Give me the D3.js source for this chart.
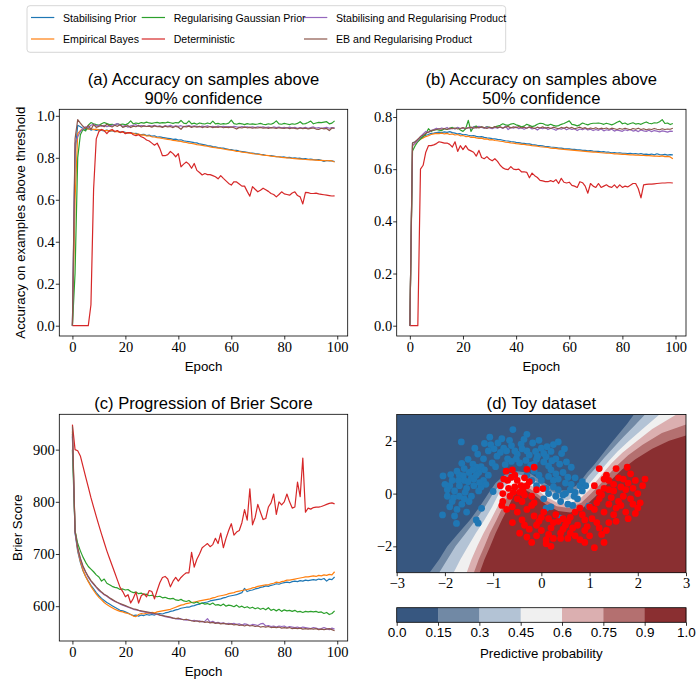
<!DOCTYPE html>
<html>
<head>
<meta charset="utf-8">
<script src="https://cdn.jsdelivr.net/npm/d3@7"></script>
<style>
  body { margin: 0; background: #fff; }
  .tick text { font-family: "Liberation Serif", serif; font-size: 14.5px; fill: #000; }
  .tick line { stroke: #000; stroke-width: 0.8; }
  .lbl { font-family: "Liberation Sans", Arial, sans-serif; fill: #000; }
</style>
</head>
<body>
<svg id="chart" width="696" height="681"></svg>
<script>
// ---- legend / series meta ----
const seriesNames = ["Stabilising Prior", "Empirical Bayes", "Regularising Gaussian Prior",
  "Deterministic", "Stabilising and Regularising Product", "EB and Regularising Product"];
const seriesColors = ["#1f77b4", "#ff7f0e", "#2ca02c", "#d62728", "#9467bd", "#8c564b"];
const epochs = d3.range(100);
const epochTicks = [0, 20, 40, 60, 80, 100];

// ---- (a) accuracy above 90% confidence ----
const hiStab = [0,0.82,0.955,0.948,0.94,0.935,0.94,0.932,0.936,0.93,
  0.934,0.93,0.928,0.932,0.926,0.929,0.924,0.927,0.922,0.925,
  0.921,0.918,0.92,0.915,0.917,0.912,0.91,0.912,0.906,0.908,
  0.903,0.905,0.899,0.9,0.897,0.895,0.893,0.891,0.888,0.889,
  0.884,0.886,0.881,0.879,0.877,0.875,0.872,0.871,0.866,0.864,
  0.862,0.858,0.857,0.853,0.852,0.849,0.847,0.846,0.843,0.84,
  0.839,0.836,0.835,0.832,0.83,0.828,0.826,0.824,0.823,0.82,
  0.819,0.816,0.815,0.812,0.811,0.81,0.808,0.806,0.805,0.803,
  0.804,0.801,0.802,0.799,0.8,0.797,0.798,0.795,0.796,0.793,
  0.794,0.791,0.79,0.792,0.788,0.783,0.787,0.785,0.786,0.782];
const hiEB = [0,0.6,0.915,0.93,0.938,0.942,0.936,0.94,0.934,0.937,
  0.932,0.935,0.929,0.931,0.927,0.93,0.925,0.926,0.921,0.923,
  0.918,0.92,0.916,0.917,0.912,0.913,0.908,0.909,0.904,0.905,
  0.9,0.899,0.896,0.895,0.892,0.89,0.888,0.886,0.883,0.882,
  0.879,0.878,0.875,0.873,0.87,0.868,0.866,0.863,0.861,0.859,
  0.857,0.855,0.852,0.85,0.848,0.846,0.845,0.842,0.84,0.838,
  0.836,0.834,0.831,0.83,0.827,0.826,0.824,0.822,0.82,0.818,
  0.817,0.815,0.813,0.812,0.81,0.808,0.807,0.805,0.804,0.802,
  0.801,0.8,0.799,0.797,0.796,0.795,0.794,0.793,0.792,0.791,
  0.79,0.79,0.789,0.788,0.788,0.787,0.786,0.787,0.785,0.78];
const hiReg = [0,0.25,0.8,0.91,0.935,0.928,0.955,0.968,0.962,0.958,
  0.955,0.962,0.968,0.963,0.958,0.96,0.956,0.962,0.958,0.961,
  0.957,0.963,0.976,0.962,0.966,0.963,0.968,0.965,0.97,0.966,
  0.964,0.967,0.969,0.965,0.968,0.966,0.97,0.967,0.964,0.968,
  0.966,0.978,0.965,0.963,0.976,0.962,0.965,0.96,0.966,0.963,
  0.961,0.966,0.962,0.975,0.962,0.964,0.96,0.963,0.961,0.965,
  0.98,0.963,0.96,0.964,0.962,0.958,0.963,0.96,0.962,0.959,
  0.961,0.964,0.96,0.958,0.962,0.96,0.965,0.976,0.962,0.96,
  0.964,0.961,0.958,0.962,0.96,0.964,0.972,0.961,0.963,0.968,
  0.975,0.962,0.966,0.969,0.968,0.97,0.972,0.962,0.965,0.976];
const hiDet = [0,0,0,0,0,0,0,0.1,0.65,0.89,
  0.925,0.935,0.93,0.915,0.93,0.935,0.925,0.93,0.92,0.925,
  0.915,0.92,0.92,0.91,0.905,0.91,0.9,0.895,0.885,0.88,
  0.87,0.86,0.87,0.845,0.81,0.81,0.815,0.83,0.82,0.805,
  0.82,0.757,0.77,0.78,0.77,0.75,0.773,0.74,0.73,0.718,
  0.725,0.72,0.72,0.715,0.71,0.7,0.715,0.702,0.69,0.678,
  0.67,0.686,0.685,0.675,0.665,0.665,0.64,0.617,0.663,0.65,
  0.638,0.645,0.655,0.648,0.64,0.63,0.625,0.614,0.625,0.638,
  0.628,0.625,0.622,0.632,0.638,0.62,0.614,0.58,0.635,0.634,
  0.63,0.63,0.632,0.628,0.626,0.624,0.622,0.62,0.618,0.619];
const hiStabReg = [0,0.87,0.9,0.925,0.94,0.948,0.944,0.955,0.96,0.952,
  0.956,0.95,0.955,0.948,0.952,0.955,0.958,0.963,0.955,0.95,
  0.953,0.946,0.952,0.955,0.958,0.95,0.954,0.952,0.949,0.953,
  0.951,0.955,0.95,0.952,0.948,0.953,0.95,0.955,0.949,0.952,
  0.95,0.953,0.948,0.951,0.954,0.949,0.952,0.95,0.947,0.951,
  0.949,0.952,0.948,0.95,0.946,0.951,0.948,0.95,0.947,0.949,
  0.946,0.95,0.947,0.945,0.949,0.946,0.948,0.945,0.947,0.944,
  0.948,0.945,0.947,0.944,0.946,0.943,0.947,0.944,0.946,0.943,
  0.945,0.942,0.946,0.943,0.945,0.941,0.944,0.942,0.945,0.941,
  0.944,0.947,0.942,0.944,0.94,0.943,0.945,0.941,0.944,0.943];
const hiEBReg = [0,0.89,0.982,0.965,0.95,0.94,0.955,0.935,0.958,0.945,
  0.95,0.955,0.948,0.96,0.952,0.947,0.955,0.95,0.958,0.945,
  0.95,0.953,0.944,0.951,0.948,0.954,0.947,0.952,0.949,0.951,
  0.946,0.952,0.948,0.95,0.945,0.951,0.947,0.949,0.944,0.95,
  0.946,0.936,0.95,0.947,0.951,0.945,0.949,0.946,0.95,0.944,
  0.948,0.945,0.949,0.944,0.947,0.945,0.948,0.943,0.946,0.944,
  0.947,0.943,0.937,0.945,0.942,0.946,0.943,0.945,0.941,0.944,
  0.942,0.945,0.941,0.943,0.94,0.944,0.942,0.94,0.943,0.941,
  0.94,0.943,0.939,0.942,0.94,0.938,0.942,0.939,0.941,0.938,
  0.94,0.942,0.937,0.935,0.941,0.938,0.94,0.93,0.942,0.94];

// ---- (b) accuracy above 50% confidence ----
const midStab = [0,0.7,0.705,0.712,0.72,0.725,0.73,0.733,0.737,0.738,
  0.74,0.742,0.74,0.743,0.741,0.744,0.74,0.738,0.735,0.736,
  0.732,0.733,0.73,0.728,0.729,0.726,0.724,0.725,0.722,0.72,
  0.719,0.717,0.716,0.714,0.713,0.711,0.709,0.708,0.706,0.705,
  0.703,0.702,0.7,0.699,0.697,0.697,0.694,0.693,0.691,0.69,
  0.689,0.687,0.687,0.685,0.684,0.683,0.681,0.681,0.679,0.678,
  0.678,0.676,0.676,0.674,0.674,0.672,0.672,0.67,0.671,0.669,
  0.668,0.668,0.666,0.667,0.665,0.665,0.663,0.664,0.662,0.663,
  0.661,0.661,0.66,0.661,0.659,0.66,0.658,0.66,0.657,0.658,
  0.656,0.658,0.655,0.659,0.656,0.655,0.657,0.654,0.656,0.655];
const midEB = [0,0.69,0.7,0.708,0.715,0.72,0.725,0.728,0.733,0.735,
  0.737,0.736,0.738,0.735,0.737,0.733,0.735,0.731,0.733,0.728,
  0.729,0.725,0.726,0.722,0.723,0.72,0.718,0.719,0.715,0.716,
  0.712,0.713,0.71,0.709,0.707,0.706,0.704,0.703,0.701,0.7,
  0.698,0.697,0.695,0.695,0.693,0.692,0.69,0.689,0.688,0.686,
  0.685,0.684,0.683,0.681,0.68,0.68,0.678,0.677,0.676,0.675,
  0.674,0.673,0.672,0.671,0.67,0.669,0.668,0.667,0.666,0.665,
  0.665,0.664,0.663,0.662,0.661,0.661,0.66,0.659,0.659,0.658,
  0.657,0.657,0.656,0.655,0.655,0.654,0.654,0.653,0.653,0.652,
  0.652,0.651,0.65,0.65,0.649,0.651,0.648,0.649,0.647,0.64];
const midReg = [0,0.67,0.69,0.705,0.715,0.725,0.735,0.755,0.745,0.75,
  0.752,0.75,0.748,0.755,0.752,0.757,0.76,0.755,0.76,0.75,
  0.745,0.755,0.787,0.745,0.762,0.765,0.76,0.762,0.758,0.763,
  0.76,0.758,0.762,0.765,0.768,0.774,0.77,0.768,0.773,0.775,
  0.77,0.767,0.762,0.765,0.772,0.768,0.763,0.766,0.772,0.776,
  0.775,0.77,0.768,0.772,0.768,0.765,0.767,0.772,0.775,0.78,
  0.785,0.772,0.77,0.766,0.77,0.777,0.773,0.77,0.774,0.776,
  0.776,0.777,0.775,0.772,0.776,0.773,0.77,0.774,0.78,0.784,
  0.774,0.777,0.771,0.775,0.778,0.773,0.775,0.772,0.777,0.781,
  0.776,0.774,0.778,0.777,0.782,0.79,0.775,0.777,0.771,0.775];
const midDet = [0,0,0,0,0.6,0.615,0.665,0.69,0.69,0.693,
  0.698,0.705,0.703,0.7,0.7,0.695,0.685,0.705,0.668,0.69,
  0.675,0.69,0.675,0.67,0.665,0.65,0.672,0.645,0.64,0.648,
  0.638,0.632,0.64,0.63,0.615,0.605,0.6,0.598,0.61,0.6,
  0.598,0.6,0.59,0.59,0.588,0.567,0.585,0.575,0.568,0.557,
  0.555,0.552,0.552,0.556,0.552,0.56,0.545,0.565,0.55,0.547,
  0.55,0.538,0.535,0.53,0.552,0.548,0.535,0.508,0.545,0.535,
  0.53,0.545,0.53,0.535,0.54,0.533,0.53,0.54,0.528,0.54,
  0.53,0.535,0.532,0.538,0.545,0.545,0.525,0.49,0.54,0.542,
  0.543,0.543,0.544,0.545,0.546,0.547,0.547,0.548,0.548,0.547];
const midStabReg = [0,0.69,0.7,0.71,0.725,0.735,0.745,0.74,0.748,0.752,
  0.757,0.754,0.758,0.755,0.76,0.753,0.757,0.754,0.76,0.756,
  0.758,0.755,0.76,0.757,0.762,0.758,0.764,0.76,0.757,0.762,
  0.758,0.755,0.76,0.757,0.762,0.756,0.765,0.752,0.76,0.757,
  0.762,0.755,0.759,0.753,0.758,0.761,0.754,0.757,0.75,0.758,
  0.755,0.76,0.752,0.757,0.754,0.749,0.756,0.753,0.758,0.751,
  0.756,0.752,0.755,0.748,0.754,0.751,0.756,0.75,0.753,0.748,
  0.752,0.749,0.754,0.747,0.751,0.749,0.753,0.746,0.75,0.748,
  0.745,0.751,0.748,0.752,0.746,0.749,0.744,0.75,0.747,0.745,
  0.749,0.744,0.748,0.746,0.743,0.747,0.745,0.742,0.746,0.745];
const midEBReg = [0,0.7,0.705,0.715,0.725,0.73,0.738,0.742,0.748,0.75,
  0.752,0.755,0.753,0.756,0.752,0.757,0.755,0.758,0.754,0.756,
  0.759,0.756,0.758,0.761,0.757,0.76,0.758,0.762,0.759,0.756,
  0.761,0.758,0.763,0.759,0.762,0.758,0.761,0.764,0.758,0.762,
  0.759,0.763,0.758,0.761,0.757,0.762,0.759,0.756,0.761,0.758,
  0.762,0.757,0.76,0.756,0.761,0.758,0.755,0.76,0.757,0.761,
  0.757,0.76,0.755,0.758,0.761,0.756,0.759,0.754,0.758,0.755,
  0.759,0.754,0.757,0.755,0.758,0.753,0.757,0.755,0.752,0.756,
  0.753,0.757,0.754,0.751,0.756,0.753,0.757,0.752,0.755,0.751,
  0.754,0.752,0.756,0.753,0.751,0.755,0.752,0.754,0.753,0.757];

// ---- (c) Brier score ----
const brStab = [925,740,705,684,668,657,648,640,633,626,
  620,615,611,607,604,601,598,595,592,591,
  589,587,584,582,583,581,583,582,584,583,
  584,583,585,586,585,587,588,590,591,593,
  594,596,597,598,598,600,601,603,604,606,
  607,608,610,611,612,613,614,616,617,619,
  620,621,622,624,626,634,628,630,631,633,
  634,636,637,639,638,640,641,643,642,644,
  645,646,645,647,648,647,649,648,650,649,
  650,651,650,652,651,653,648,652,651,656];
const brEB = [935,745,708,686,669,657,647,638,630,623,
  617,612,607,603,600,597,594,592,590,589,
  587,586,584,581,580,584,586,585,587,586,
  588,587,589,590,591,592,593,594,596,598,
  600,602,603,605,606,607,608,609,610,611,
  612,613,614,616,617,619,620,621,622,624,
  625,626,628,629,630,631,632,633,635,636,
  638,639,640,641,641,643,644,646,645,647,
  648,650,650,651,652,653,654,655,656,656,
  657,658,657,659,658,660,659,661,660,666];
const brReg = [900,745,720,706,694,684,676,671,666,660,
  656,648,652,644,641,638,636,635,632,633,
  631,632,628,626,627,624,625,622,623,620,
  621,619,618,619,616,617,615,614,615,612,
  611,613,610,609,611,607,606,608,605,606,
  604,605,603,606,602,603,601,604,600,602,
  601,599,602,598,600,597,599,596,598,595,
  597,594,596,593,597,592,594,591,594,590,
  593,591,592,590,592,589,590,588,590,589,
  590,589,590,588,589,586,588,584,586,591];
const brDet = [948,900,898,888,868,848,828,808,790,772,
  755,738,722,706,692,678,664,650,636,628,
  618,622,606,615,627,606,620,624,618,630,
  628,614,630,645,655,657,652,637,648,655,
  648,655,660,664,664,703,675,690,700,712,
  716,720,714,718,730,720,740,712,730,745,
  758,736,742,745,760,785,765,825,756,770,
  795,780,766,768,790,798,815,776,800,794,
  800,815,800,788,790,838,810,884,780,788,
  786,789,790,790,791,793,795,797,798,796];
const brStabReg = [930,742,710,690,675,665,655,648,642,636,
  630,626,622,619,615,612,609,607,604,602,
  600,598,596,594,593,592,590,589,588,587,
  586,585,584,583,582,580,579,578,577,576,
  575,576,574,573,574,572,573,571,572,570,
  571,576,569,571,568,569,567,568,566,567,
  566,567,565,566,564,566,565,563,565,564,
  563,566,567,562,563,561,562,560,562,561,
  562,559,561,560,559,560,558,560,559,558,
  557,559,558,556,557,559,557,555,558,556];
const brEBReg = [945,744,712,692,677,666,657,649,643,637,
  632,627,623,620,616,613,610,607,605,603,
  601,599,597,595,594,592,591,590,589,588,
  587,586,585,583,582,581,580,579,577,576,
  577,575,574,575,573,572,571,572,570,571,
  569,570,568,569,567,568,566,567,566,565,
  566,564,565,563,564,562,564,562,563,561,
  562,560,561,560,561,559,560,559,560,558,
  559,558,559,557,558,557,558,556,557,556,
  557,556,557,555,556,555,556,557,555,553];

// ---- (d) toy dataset ----
const bandLabels = ["0.0", "0.15", "0.3", "0.45", "0.6", "0.75", "0.9", "1.0"];
const bandColors = ["#375780", "#7189a5", "#b3c3d5", "#f0f0f0", "#dbafb0", "#b47070", "#8a2f31"];
// level boundaries (0.15 ... 0.9), from the bottom edge to the top / right edge
const lvl15 = [[-2.32,-3],[-2.12,-2.5],[-1.95,-2],[-1.72,-1.5],[-1.48,-1],[-1.28,-0.5],[-1.1,0],[-0.95,0.4],[-0.75,0.72],[-0.5,0.85],[-0.25,0.78],[-0.05,0.55],[0.15,0.3],[0.35,0.12],[0.55,0.12],[0.72,0.3],[0.85,0.55],[0.95,0.8],[1.1,1.1],[1.25,1.45],[1.42,1.85],[1.6,2.25],[1.78,2.65],[1.92,3]];
const lvl30 = [[-2.12,-3],[-1.95,-2.5],[-1.78,-2],[-1.57,-1.5],[-1.36,-1],[-1.17,-0.5],[-1.0,0],[-0.87,0.33],[-0.7,0.6],[-0.48,0.72],[-0.27,0.66],[-0.08,0.43],[0.12,0.17],[0.33,-0.02],[0.55,-0.02],[0.74,0.17],[0.88,0.42],[0.98,0.68],[1.13,0.98],[1.3,1.35],[1.5,1.75],[1.7,2.15],[1.92,2.55],[2.15,3]];
const lvl45 = [[-1.82,-3],[-1.68,-2.5],[-1.52,-2],[-1.36,-1.5],[-1.18,-1],[-1.02,-0.5],[-0.88,0],[-0.77,0.27],[-0.62,0.48],[-0.45,0.57],[-0.28,0.52],[-0.1,0.3],[0.1,0.02],[0.32,-0.2],[0.55,-0.24],[0.77,-0.06],[0.92,0.22],[1.05,0.5],[1.2,0.82],[1.38,1.2],[1.58,1.6],[1.82,2.0],[2.1,2.45],[2.45,3]];
const lvl60 = [[-1.55,-3],[-1.45,-2.5],[-1.33,-2],[-1.2,-1.5],[-1.05,-1],[-0.91,-0.5],[-0.78,0],[-0.68,0.22],[-0.55,0.38],[-0.43,0.44],[-0.3,0.4],[-0.12,0.2],[0.08,-0.1],[0.32,-0.34],[0.56,-0.4],[0.8,-0.2],[0.98,0.12],[1.12,0.42],[1.28,0.78],[1.46,1.16],[1.68,1.55],[1.95,1.95],[2.3,2.45],[2.8,3]];
const lvl75 = [[-1.4,-3],[-1.3,-2.5],[-1.18,-2],[-1.07,-1.5],[-0.93,-1],[-0.8,-0.5],[-0.68,0],[-0.6,0.17],[-0.5,0.28],[-0.4,0.31],[-0.3,0.26],[-0.13,0.06],[0.08,-0.24],[0.32,-0.48],[0.57,-0.55],[0.83,-0.35],[1.03,0],[1.2,0.32],[1.37,0.68],[1.56,1.05],[1.8,1.45],[2.1,1.85],[2.5,2.3],[3,2.62]];
const lvl90 = [[-1.28,-3],[-1.18,-2.5],[-1.06,-2],[-0.95,-1.5],[-0.82,-1],[-0.68,-0.5],[-0.56,0],[-0.5,0.1],[-0.42,0.16],[-0.35,0.15],[-0.25,0.06],[-0.1,-0.12],[0.1,-0.42],[0.35,-0.66],[0.6,-0.72],[0.88,-0.52],[1.1,-0.15],[1.28,0.2],[1.47,0.55],[1.68,0.92],[1.95,1.3],[2.3,1.7],[2.65,2.0],[3,2.2]];

const bluePts = [[-0.59,2.43],[-1.66,1.96],[-1.07,2.14],[0.35,1.96],[-0.9,1.92],[-0.78,1.72],[-0.62,1.82],[-0.42,1.88],[-0.3,1.62],[-0.18,1.92],
  [0,1.72],[0.2,1.6],[0.1,1.4],[-0.1,1.3],[-0.5,1.5],[-0.7,1.32],[-0.92,1.42],[-1.1,1.62],[-1.2,1.32],[-1.32,1.5],
  [-1.42,1.12],[-1.02,1.16],[-0.32,1.26],[0.3,1.32],[0.42,1.52],[0.52,1.2],[0.62,1.0],[0.15,1.05],[-0.15,1.12],[-0.45,1.16],
  [-0.75,1.1],[-1.25,1.02],[-0.55,1.62],[-0.25,1.46],[0.05,1.52],[-0.85,1.56],[-1.05,1.86],[-0.66,2.02],[-0.36,2.06],[0.25,1.86],
  [-1.52,1.3],[-0.05,2.02],[-0.95,1.02],[-0.4,1.7],[-0.12,1.6],[0.12,1.78],[-0.72,1.62],[-0.98,1.7],[-1.18,1.9],[-0.52,1.32],
  [-0.22,1.08],[0.38,1.12],[0.48,1.7],[-0.82,2.08],[-0.3,2.25],[0.05,1.2],[-1.38,1.72],[-0.62,1.22],[0.22,1.25],[-0.08,1.42],
  [-2.04,0.67],[-2.05,-0.81],[-1.76,-1.13],[-1.35,-1.0],[-1.31,-1.12],[-1.24,-0.56],[-1.0,0.08],[-1.9,0.3],[-1.8,0.1],[-1.7,-0.1],
  [-1.85,-0.3],[-1.6,0.5],[-1.5,0.8],[-1.7,0.7],[-1.45,0.6],[-1.3,0.8],[-1.2,0.5],[-1.4,0.3],[-1.55,0.2],[-1.3,0.1],
  [-1.65,-0.4],[-1.75,-0.6],[-1.5,-0.3],[-1.95,-0.1],[-1.85,0.5],[-1.6,0.95],[-1.35,1.0],[-1.1,0.7],[-1.15,0.35],[-1.55,-0.7],
  [-1.8,-0.85],[-1.95,0.15],[-2.0,0.35],[-1.45,-0.1],[-1.25,0.25],[-1.7,0.3],[-1.6,-0.2],[-1.4,0.55],[-1.75,0.85],[-1.88,0.72],
  [-1.62,0.68],[-1.52,0.45],[-1.35,0.7],[-1.18,0.9],[-1.72,0.5],[-1.9,-0.5],[-1.58,0.05],[-1.28,0.42],[-1.42,0.9],[-1.65,1.15],
  [-1.82,-0.15],[0.2,0.9],[0.45,0.8],[0.7,0.6],[0.8,0.3],[0.85,0.1],[0.75,-0.2],[0.55,-0.4],[0.4,-0.3],[0.3,-0.1],
  [0.1,0.2],[0,0.5],[-0.1,0.3],[0.25,0.5],[0.5,0.4],[0.6,0.15],[0.35,0.15],[0.65,-0.45],[0.98,-0.48],[0.2,-0.5],
  [0.5,0],[0.15,0.65],[-0.05,0.7],[0.35,0.55],[0.7,0.05],[0.45,-0.05],[0.62,0.35],[-0.2,0.5],[0.05,-0.2],[0.85,0.45],
  [0.39,-0.93],[0.1,-0.55],[0.3,0.75],[-0.15,0.85],[0.55,0.62],[0.92,0.3],[0.25,0.25],[-0.3,0.7],[0.68,-0.1],[0.15,0]];
const redPts = [[-0.73,0.85],[-0.6,0.9],[-0.3,0.92],[-0.15,1.0],[0.03,0.19],[-0.85,0.3],[-0.8,0],[-0.7,0.5],[-0.5,0.5],[-0.35,0.6],
  [-0.55,0.25],[-0.65,-0.1],[-0.45,0.05],[-0.3,0.3],[-0.8,-0.3],[-0.6,-0.5],[-0.4,-0.3],[-0.2,-0.1],[-0.78,0.55],[-0.68,0.2],
  [-0.5,-0.2],[-0.35,-0.05],[-0.25,0.45],[-0.1,0.15],[-0.72,-0.6],[-0.55,0.7],[-0.42,0.3],[-0.82,-0.45],[-0.58,0.05],[-0.15,-0.35],
  [-0.62,0.62],[-0.38,0.12],[-0.45,-1.5],[-0.2,-1.85],[-0.1,-1.6],[0.1,-1.9],[0.2,-2.0],[0.4,-1.7],[0.6,-1.5],[0.8,-1.75],
  [1.1,-2.05],[1.3,-1.85],[0.9,-1.4],[0.5,-1.2],[0.2,-1.3],[-0.1,-1.2],[-0.4,-1.0],[0,-0.9],[0.3,-0.8],[0.6,-0.9],
  [0.9,-1.0],[1.2,-1.3],[1.4,-1.1],[1.5,-0.8],[1.3,-0.7],[1.1,-0.6],[-0.6,-1.1],[-0.5,-0.7],[-0.3,-0.6],[0.15,-1.55],
  [0.45,-1.35],[0.75,-1.2],[1.0,-1.6],[-0.25,-1.35],[0.35,-1.05],[0.7,-0.7],[1.05,-0.95],[0.05,-0.7],[-0.15,-0.85],[0.55,-1.7],
  [0.9,-1.85],[1.25,-1.55],[0.25,-1.7],[-0.35,-1.2],[0,-1.4],[0.4,-1.5],[0.65,-1.3],[0.95,-1.25],[1.15,-1.1],[-0.05,-1.05],
  [0.25,-1.1],[0.55,-1.05],[0.85,-0.8],[1.35,-1.4],[0.1,-1.75],[-0.3,-1.65],[0.7,-1.6],[1.55,-1.05],[0.45,-0.95],[-0.2,-0.45],
  [0.15,-0.95],[0.8,-0.55],[1.2,0.95],[1.55,0.95],[1.78,1.0],[2.15,0.55],[2.05,-0.35],[1.9,0.2],[1.8,0.4],[1.6,0.6],
  [1.4,0.5],[1.3,0.2],[1.5,0.1],[1.7,-0.1],[1.9,-0.4],[1.6,-0.3],[1.4,-0.4],[1.2,-0.2],[1.0,-0.5],[1.75,-0.7],
  [2.0,0],[1.85,0.75],[1.35,0.7],[1.1,0.3],[1.65,0.25],[1.45,-0.15],[1.95,-0.75],[1.25,-0.05],[1.55,-0.55],[1.8,-0.95],
  [2.1,0.3],[1.3,0.55],[1.7,0.55],[1.95,0.5],[1.5,0.35],[1.2,0.05],[1.65,-0.45],[1.85,-0.2],[1.4,0.15],[2.0,-0.55],
  [1.15,-0.35],[1.75,0.15]];

const svg = d3.select("#chart");

// ---- layout (pixel frames of the axes) ----
const A = { l: 59.3, r: 347.7, t: 109.3, b: 336 };
const B = { l: 396.7, r: 686, t: 109.3, b: 336 };
const C = { l: 59.3, r: 347.7, t: 414.3, b: 641 };
const D = { l: 396.7, r: 686, t: 414.5, b: 572.7 };
const CB = { l: 396.7, r: 686, t: 607.7, b: 622.3 };

function frameRect(f) {
  svg.append("rect").attr("x", f.l).attr("y", f.t)
    .attr("width", f.r - f.l).attr("height", f.b - f.t)
    .attr("fill", "none").attr("stroke", "#000").attr("stroke-width", 0.8);
}

function styleAxis(g) {
  g.select(".domain").remove();
}

function text(x, y, str, size, anchor = "middle", rotate = 0) {
  const t = svg.append("text").attr("class", "lbl")
    .attr("font-size", size).attr("text-anchor", anchor).text(str);
  if (rotate) t.attr("transform", `translate(${x},${y}) rotate(${rotate})`);
  else t.attr("x", x).attr("y", y);
  return t;
}

function linePanel(f, series, yTicks, yFmt) {
  const x = d3.scaleLinear().domain([-4.95, 103.95]).range([f.l, f.r]);
  const [lo, hi] = d3.extent(series.flat());
  const pad = (hi - lo) * 0.05;
  const y = d3.scaleLinear().domain([lo - pad, hi + pad]).range([f.b, f.t]);
  const line = d3.line().x((d, i) => x(epochs[i])).y(d => y(d));
  series.forEach((s, k) => {
    svg.append("path").datum(s).attr("d", line)
      .attr("fill", "none").attr("stroke", seriesColors[k])
      .attr("stroke-width", 1.2).attr("stroke-linejoin", "round");
  });
  svg.append("g").attr("transform", `translate(0,${f.b})`)
    .call(d3.axisBottom(x).tickValues(epochTicks).tickSize(3.5).tickPadding(2).tickFormat(d3.format("d")))
    .call(styleAxis);
  svg.append("g").attr("transform", `translate(${f.l},0)`)
    .call(d3.axisLeft(y).tickValues(yTicks).tickSize(3.5).tickPadding(1).tickFormat(yFmt))
    .call(styleAxis);
  frameRect(f);
  text((f.l + f.r) / 2, f.b + 35, "Epoch", 13.3);
}

linePanel(A, [hiStab, hiEB, hiReg, hiDet, hiStabReg, hiEBReg], [0, 0.2, 0.4, 0.6, 0.8, 1.0], d3.format(".1f"));
linePanel(B, [midStab, midEB, midReg, midDet, midStabReg, midEBReg], [0, 0.2, 0.4, 0.6, 0.8], d3.format(".1f"));
linePanel(C, [brStab, brEB, brReg, brDet, brStabReg, brEBReg], [600, 700, 800, 900], d3.format("d"));

// titles and y labels
text((A.l + A.r) / 2, 84.5, "(a) Accuracy on samples above", 16.6);
text((A.l + A.r) / 2, 103.5, "90% confidence", 16.6);
text((B.l + B.r) / 2, 84.5, "(b) Accuracy on samples above", 16.6);
text((B.l + B.r) / 2, 103.5, "50% confidence", 16.6);
text((C.l + C.r) / 2, 408.5, "(c) Progression of Brier Score", 16.6);
text((D.l + D.r) / 2, 408.5, "(d) Toy dataset", 16.6);
text(24.5, (A.t + A.b) / 2, "Accuracy on examples above threshold", 13.3, "middle", -90);
text(21.5, (C.t + C.b) / 2, "Brier Score", 13.3, "middle", -90);

// ---- (d) toy dataset ----
const px = d3.scaleLinear().domain([-3, 3]).range([D.l, D.r]);
const py = d3.scaleLinear().domain([-3, 3]).range([D.b, D.t]);
svg.append("clipPath").attr("id", "clipD").append("rect")
  .attr("x", D.l).attr("y", D.t).attr("width", D.r - D.l).attr("height", D.b - D.t);
const gd = svg.append("g").attr("clip-path", "url(#clipD)");
gd.append("rect").attr("x", D.l).attr("y", D.t).attr("width", D.r - D.l)
  .attr("height", D.b - D.t).attr("fill", bandColors[0]);
const bound = d3.line().x(d => px(d[0])).y(d => py(d[1]));
[lvl15, lvl30, lvl45, lvl60, lvl75, lvl90].forEach((lv, i) => {
  gd.append("path").attr("d", bound(lv.concat([[3, 3], [3, -3]])) + "Z")
    .attr("fill", bandColors[i + 1]);
});
gd.selectAll("circle.blue").data(bluePts).join("circle").attr("class", "blue")
  .attr("cx", d => px(d[0])).attr("cy", d => py(d[1])).attr("r", 3.4).attr("fill", "#1f77b4");
gd.selectAll("circle.red").data(redPts).join("circle").attr("class", "red")
  .attr("cx", d => px(d[0])).attr("cy", d => py(d[1])).attr("r", 3.4).attr("fill", "#ff0000");
svg.append("g").attr("transform", `translate(0,${D.b})`)
  .call(d3.axisBottom(px).tickValues([-3, -2, -1, 0, 1, 2, 3]).tickSize(3.5).tickPadding(2).tickFormat(d3.format("d")))
  .call(styleAxis);
svg.append("g").attr("transform", `translate(${D.l},0)`)
  .call(d3.axisLeft(py).tickValues([-2, 0, 2]).tickSize(3.5).tickPadding(1).tickFormat(d3.format("d")))
  .call(styleAxis);
frameRect(D);

// ---- colorbar ----
const cb = d3.scaleBand().domain(d3.range(bandColors.length)).range([CB.l, CB.r]).paddingInner(0);
svg.selectAll("rect.cb").data(bandColors).join("rect").attr("class", "cb")
  .attr("x", (d, i) => cb(i)).attr("y", CB.t).attr("width", cb.bandwidth() + 0.3)
  .attr("height", CB.b - CB.t).attr("fill", d => d);
const cbTick = d3.scalePoint().domain(bandLabels).range([CB.l, CB.r]);
const gcb = svg.append("g").attr("transform", `translate(0,${CB.b})`)
  .call(d3.axisBottom(cbTick).tickSize(3.5).tickPadding(2))
  .call(styleAxis);
gcb.selectAll(".tick text").style("font-family", "'Liberation Sans', Arial, sans-serif").style("font-size", "13.5px");
frameRect(CB);
text((CB.l + CB.r) / 2, 658, "Predictive probability", 13.3);

// ---- legend ----
const lg = svg.append("g");
lg.append("rect").attr("x", 27).attr("y", 5.7).attr("width", 478.7).attr("height", 46.6)
  .attr("rx", 3).attr("fill", "#fff").attr("stroke", "#cccccc").attr("stroke-width", 0.8);
const colX = [31, 141.7, 304];
const rowY = [17.5, 39];
seriesNames.forEach((name, i) => {
  const cx = colX[Math.floor(i / 2)], cy = rowY[i % 2];
  lg.append("line").attr("x1", cx).attr("x2", cx + 23.3).attr("y1", cy).attr("y2", cy)
    .attr("stroke", seriesColors[i]).attr("stroke-width", 1.2);
  lg.append("text").attr("class", "lbl").attr("x", cx + 32).attr("y", cy + 4)
    .attr("font-size", 10.6).text(name);
});
</script>
</body>
</html>
